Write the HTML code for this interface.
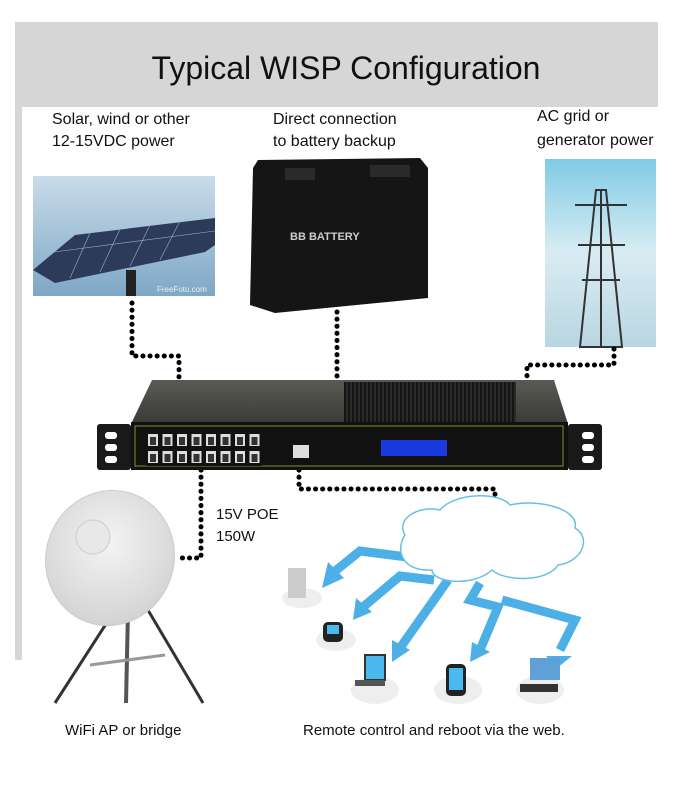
<!DOCTYPE html>
<html><head><style>
body{margin:0;background:#fff;width:700px;height:800px;overflow:hidden}
svg{display:block}
text{font-family:"Liberation Sans",sans-serif;fill:#111}
</style></head><body>
<svg width="700" height="800" viewBox="0 0 700 800">
<defs>
<linearGradient id="sky" x1="0" y1="0" x2="0" y2="1"><stop offset="0" stop-color="#c9dce9"/><stop offset="1" stop-color="#7ea7c6"/></linearGradient>
<linearGradient id="sky2" x1="0" y1="0" x2="0" y2="1"><stop offset="0" stop-color="#7fcbe6"/><stop offset="0.5" stop-color="#d9ecf3"/><stop offset="1" stop-color="#b8d6e2"/></linearGradient>
<linearGradient id="top" x1="0" y1="0" x2="0" y2="1"><stop offset="0" stop-color="#5a5a55"/><stop offset="1" stop-color="#3a3a36"/></linearGradient>
<radialGradient id="dish" cx="0.45" cy="0.4" r="0.6"><stop offset="0" stop-color="#f4f4f4"/><stop offset="1" stop-color="#d4d4d4"/></radialGradient>
<pattern id="ports" x="146" y="432" width="14.5" height="17" patternUnits="userSpaceOnUse"><rect width="14.5" height="17" fill="#111"/><rect x="2" y="2" width="10" height="12" fill="#ddd"/><rect x="4" y="5" width="6" height="8" fill="#333"/></pattern>
<pattern id="vent" width="4" height="10" patternUnits="userSpaceOnUse"><rect width="4" height="10" fill="#2a2a28"/><rect x="0" width="2" height="10" fill="#151515"/></pattern>
</defs>
<rect x="15" y="22" width="643" height="85" fill="#d6d6d6"/>
<rect x="15" y="107" width="7" height="553" fill="#d6d6d6"/>
<text x="346" y="79" font-size="32" text-anchor="middle">Typical WISP Configuration</text>
<text x="52" y="124" font-size="16">Solar, wind or other</text>
<text x="52" y="146" font-size="16">12-15VDC power</text>
<text x="273" y="124" font-size="16">Direct connection</text>
<text x="273" y="146" font-size="16">to battery backup</text>
<text x="537" y="121" font-size="16">AC grid or</text>
<text x="537" y="145" font-size="16">generator power</text>
<!-- solar -->
<rect x="33" y="176" width="182" height="120" fill="url(#sky)"/>
<polygon points="33,270 75,235 215,218 215,245 205,252 55,283" fill="#2c3b5a"/>
<g stroke="#9fb0cc" stroke-width="0.6">
<line x1="54" y1="252" x2="215" y2="231"/>
<line x1="90" y1="233" x2="70" y2="278"/><line x1="120" y1="229" x2="100" y2="272"/><line x1="150" y1="225" x2="130" y2="266"/><line x1="180" y1="221" x2="160" y2="260"/>
</g>
<rect x="126" y="270" width="10" height="26" fill="#222"/>
<text x="157" y="292" font-size="8" style="fill:#eee">FreeFoto.com</text>
<!-- battery -->
<polygon points="253,168 258,160 420,158 428,168 428,298 275,313 250,305" fill="#151515"/>
<rect x="285" y="168" width="30" height="12" fill="#2a2a2a"/>
<rect x="370" y="165" width="40" height="12" fill="#2a2a2a"/>
<text x="290" y="240" font-size="11" style="fill:#ccc" font-weight="bold">BB BATTERY</text>
<!-- pylon -->
<rect x="545" y="159" width="111" height="188" fill="url(#sky2)"/>
<polygon points="596,190 606,190 622,347 580,347" fill="none" stroke="#333" stroke-width="2"/>
<line x1="601" y1="190" x2="601" y2="347" stroke="#333" stroke-width="2"/>
<line x1="575" y1="205" x2="627" y2="205" stroke="#333" stroke-width="2"/>
<line x1="578" y1="245" x2="625" y2="245" stroke="#333" stroke-width="2"/>
<line x1="582" y1="280" x2="620" y2="280" stroke="#333" stroke-width="2"/>
<!-- dotted lines -->
<g stroke="#000" stroke-width="5" stroke-linecap="round" stroke-dasharray="0.1 7" fill="none">
<polyline points="132,303 132,356 179,356 179,378"/>
<polyline points="337,312 337,378"/>
<polyline points="614,349 614,365 527,365 527,378"/>
<polyline points="201,470 201,558 176,558"/>
<polyline points="299,470 299,489 495,489 495,505"/>
</g>
<!-- switch -->
<polygon points="152,380 554,380 568,424 131,424" fill="url(#top)"/>
<rect x="344" y="382" width="172" height="40" fill="url(#vent)"/>
<rect x="97" y="424" width="34" height="46" fill="#1a1a1a" rx="3"/>
<rect x="568" y="424" width="34" height="46" fill="#1a1a1a" rx="3"/>
<g fill="#fff"><rect x="105" y="432" width="12" height="7" rx="3"/><rect x="105" y="444" width="12" height="7" rx="3"/><rect x="105" y="456" width="12" height="7" rx="3"/>
<rect x="582" y="432" width="12" height="7" rx="3"/><rect x="582" y="444" width="12" height="7" rx="3"/><rect x="582" y="456" width="12" height="7" rx="3"/></g>
<rect x="131" y="422" width="437" height="48" fill="#111"/>
<rect x="135" y="426" width="428" height="40" fill="none" stroke="#8a8a30" stroke-width="1"/>
<rect x="146" y="432" width="116" height="34" fill="url(#ports)"/>
<rect x="293" y="445" width="16" height="13" fill="#ddd"/>
<rect x="381" y="440" width="66" height="16" fill="#1a3ae0"/>
<!-- dish -->
<line x1="115" y1="610" x2="55" y2="703" stroke="#333" stroke-width="3"/>
<line x1="128" y1="610" x2="126" y2="703" stroke="#555" stroke-width="4"/>
<line x1="145" y1="605" x2="203" y2="703" stroke="#333" stroke-width="3"/>
<line x1="90" y1="665" x2="165" y2="655" stroke="#999" stroke-width="3"/>
<ellipse cx="110" cy="558" rx="64" ry="68" fill="url(#dish)" stroke="#ccc" transform="rotate(20 110 558)"/>
<circle cx="93" cy="537" r="17" fill="#e8e8e8" stroke="#ccc"/>
<text x="216" y="519" font-size="15">15V POE</text>
<text x="216" y="541" font-size="15">150W</text>
<!-- arrows -->
<g stroke="#4cb0e6" stroke-width="9" fill="none">
<polyline points="423,559 360,551 334,572"/>
<polyline points="434,580 400,576 363,607"/>
<polyline points="448,580 400,648"/>
<polyline points="480,583 470,600 498,607 480,650"/>
<polyline points="502,600 575,620 560,650"/>
</g>
<g fill="#4cb0e6">
<polygon points="322,588 328,562 344,578"/>
<polygon points="353,620 356,598 372,612"/>
<polygon points="392,662 392,640 410,650"/>
<polygon points="470,662 472,642 490,652"/>
<polygon points="546,656 572,656 557,668"/>
</g>
<path d="M405,535 C395,518 420,505 440,510 C455,492 500,492 510,505 C540,498 580,510 575,528 C592,538 582,562 558,565 C548,582 505,582 492,570 C472,588 432,582 432,570 C402,572 395,550 405,535Z" fill="#fff" stroke="#66c0e6" stroke-width="1.5"/>
<!-- devices -->
<ellipse cx="302" cy="598" rx="20" ry="10" fill="#eee"/><rect x="288" y="568" width="18" height="30" fill="#ccc"/>
<ellipse cx="336" cy="640" rx="20" ry="11" fill="#eee"/><rect x="323" y="622" width="20" height="20" rx="5" fill="#222"/><rect x="327" y="625" width="12" height="9" fill="#49b9ee"/>
<ellipse cx="375" cy="690" rx="24" ry="14" fill="#eee"/><rect x="365" y="655" width="20" height="25" fill="#49b9ee" stroke="#333" stroke-width="2"/><rect x="355" y="680" width="30" height="6" fill="#555"/>
<ellipse cx="458" cy="690" rx="24" ry="14" fill="#eee"/><rect x="446" y="664" width="20" height="32" rx="5" fill="#222"/><rect x="449" y="668" width="14" height="22" fill="#49b9ee"/>
<ellipse cx="540" cy="690" rx="24" ry="14" fill="#eee"/><rect x="530" y="658" width="30" height="22" fill="#5fa0d8"/><rect x="520" y="684" width="38" height="8" fill="#333"/>
<text x="65" y="735" font-size="15">WiFi AP or bridge</text>
<text x="303" y="735" font-size="15">Remote control and reboot via the web.</text>
</svg>
</body></html>
